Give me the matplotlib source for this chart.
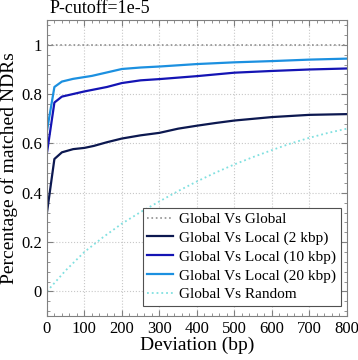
import matplotlib
matplotlib.use("Agg")
import matplotlib.pyplot as plt
from matplotlib.ticker import AutoMinorLocator

plt.rcParams['font.family'] = ['Liberation Serif', 'DejaVu Serif']

# data
x_global = [0, 800]
y_global = [1.0, 1.0]

x_2k = [0, 20, 40, 70, 100, 125, 160, 200, 250, 300, 350, 400, 450, 500, 600, 700, 800]
y_2k = [0.318, 0.537, 0.564, 0.577, 0.582, 0.590, 0.605, 0.620, 0.633, 0.643, 0.660,
        0.672, 0.683, 0.693, 0.707, 0.716, 0.719]

x_10k = [0, 20, 40, 100, 160, 200, 250, 300, 400, 500, 600, 700, 800]
y_10k = [0.56, 0.766, 0.790, 0.811, 0.829, 0.845, 0.856, 0.861, 0.873, 0.887, 0.894, 0.900, 0.904]

x_20k = [0, 20, 40, 70, 120, 160, 200, 250, 300, 400, 500, 600, 700, 800]
y_20k = [0.65, 0.829, 0.851, 0.862, 0.874, 0.888, 0.902, 0.908, 0.912, 0.922, 0.929,
         0.934, 0.940, 0.944]

x_rand = [0, 50, 100, 150, 200, 250, 300, 350, 400, 450, 500, 550, 600, 650, 700, 750, 800]
y_rand = [0.0, 0.085, 0.16, 0.22, 0.275, 0.322, 0.365, 0.407, 0.446, 0.482, 0.515,
          0.545, 0.573, 0.6, 0.623, 0.643, 0.66]

fig = plt.figure(figsize=(3.58, 3.6), dpi=100)
ax = fig.add_axes([0.131, 0.122, 0.838, 0.822])

ax.plot(x_global, y_global, color='#909090', lw=1.2, ls=':', label='Global Vs Global')
ax.plot(x_2k, y_2k, color='#0c1850', lw=1.6, label='Global Vs Local (2 kbp)')
ax.plot(x_10k, y_10k, color='#1414b4', lw=1.6, label='Global Vs Local (10 kbp)')
ax.plot(x_20k, y_20k, color='#1c90e0', lw=1.6, label='Global Vs Local (20 kbp)')
ax.plot(x_rand, y_rand, color='#80e0e0', lw=1.3, ls=':', label='Global Vs Random')

ax.set_xlim(0, 800)
ax.set_ylim(-0.1, 1.1)
ax.set_xticks(range(0, 801, 100))
ax.set_yticks([0, 0.2, 0.4, 0.6, 0.8, 1])
ax.set_yticklabels(['0', '0.2', '0.4', '0.6', '0.8', '1'])
ax.xaxis.set_minor_locator(AutoMinorLocator(5))
ax.yaxis.set_minor_locator(AutoMinorLocator(5))
ax.tick_params(which='both', direction='in', top=True, right=True, labelsize=12, color='#808080')
ax.tick_params(which='major', length=4)
ax.tick_params(which='minor', length=2)
ax.grid(True, which='major', color='#c8c8c8', ls=':', lw=0.8)
for s in ax.spines.values():
    s.set_color('#808080')

ax.set_xlabel('Deviation (bp)', fontsize=14, labelpad=0)
ax.set_ylabel('Percentage of matched NDRs', fontsize=14, labelpad=2)
ax.text(0.01, 1.01, 'P-cutoff=1e-5', transform=ax.transAxes, fontsize=13, ha='left', va='bottom')

leg = ax.legend(loc='lower right', bbox_to_anchor=(0.98, 0.034), borderaxespad=0,
                fontsize=11, fancybox=False, framealpha=1, edgecolor='#505050',
                handlelength=1.7, handletextpad=0.4, labelspacing=0.33, borderpad=0.3)
leg.get_frame().set_linewidth(0.8)

fig.savefig('out.png', dpi=100)
